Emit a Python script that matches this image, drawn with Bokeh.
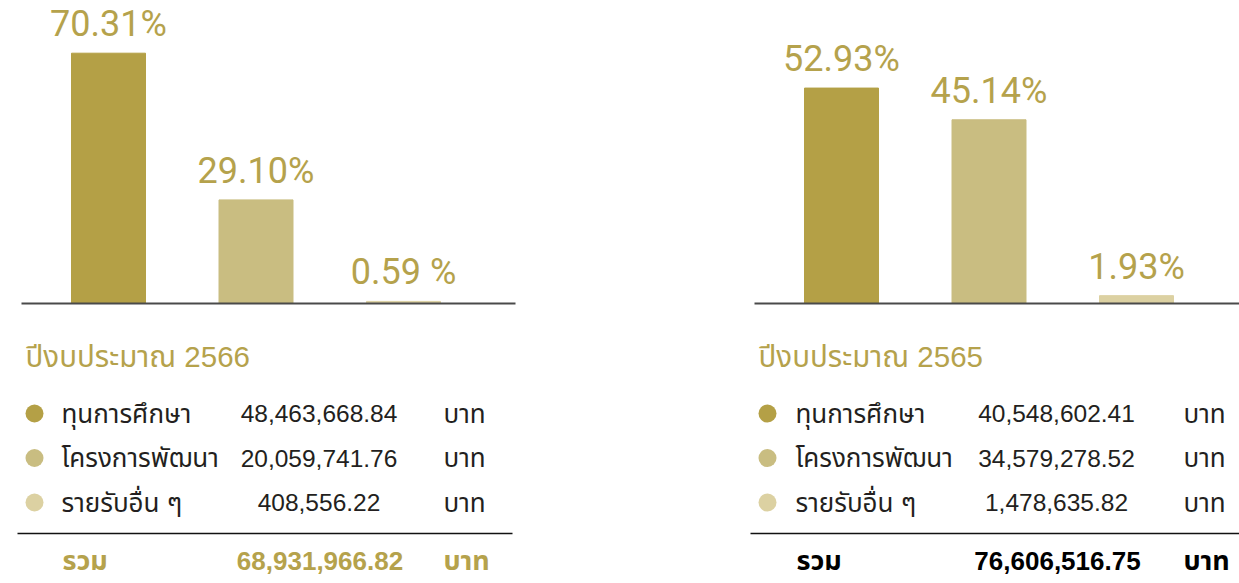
from bokeh.plotting import figure
from bokeh.models import Range1d, ColumnDataSource
from bokeh.core.properties import value
from bokeh.embed import file_html
from bokeh.resources import INLINE

# ---------------- data ----------------
categories = ["ทุนการศึกษา", "โครงการพัฒนา", "รายรับอื่น ๆ"]
years = ["ปีงบประมาณ 2566", "ปีงบประมาณ 2565"]

pct_2566 = [70.31, 29.10, 0.59]
pct_labels_2566 = ["70.31%", "29.10%", "0.59 %"]
amounts_2566 = ["48,463,668.84", "20,059,741.76", "408,556.22"]
total_2566 = "68,931,966.82"

pct_2565 = [52.93, 45.14, 1.93]
pct_labels_2565 = ["52.93%", "45.14%", "1.93%"]
amounts_2565 = ["40,548,602.41", "34,579,278.52", "1,478,635.82"]
total_2565 = "76,606,516.75"

total_label = "รวม"
unit = "บาท"

# ---------------- style ----------------
W, H = 1239, 583
bar_colors = ["#B4A046", "#C9BD81", "#DCD1A2"]
gold = "#B5A24C"
dark = "#231F20"
num_font = value("Liberation Sans, Noto Sans Thai, Noto Sans, sans-serif")
big_font = value("Roboto, Liberation Sans, sans-serif")
STEP = 147.5      # px between bar centres
BASE_Y = 303      # px of the bar baseline

p = figure(width=W, height=H, output_backend="svg", toolbar_location=None,
           x_range=Range1d(0, W), y_range=Range1d(H, 0), min_border=0)
p.xaxis.visible = False
p.yaxis.visible = False
p.xgrid.visible = False
p.ygrid.visible = False
p.outline_line_color = None


def bar_panel(name, pcts, labels, first_center, px_per_pct, base_x0, base_x1):
    xr = Range1d((0 - first_center) / STEP, (W - first_center) / STEP)
    yr = Range1d(-(H - BASE_Y) / px_per_pct, BASE_Y / px_per_pct)
    p.extra_x_ranges["x" + name] = xr
    p.extra_y_ranges["y" + name] = yr
    src = ColumnDataSource(dict(x=list(range(len(pcts))), top=pcts, label=labels,
                                color=bar_colors,
                                ly=[v + 29 / px_per_pct for v in pcts]))
    p.vbar(x="x", top="top", bottom=0, width=74 / STEP, color="color", source=src,
           x_range_name="x" + name, y_range_name="y" + name)
    p.text(x="x", y="ly", text="label", source=src, text_align="center",
           text_baseline="middle", text_font=big_font,
           text_font_size=value("36px"), text_color=gold,
           x_range_name="x" + name, y_range_name="y" + name)
    p.segment(x0=[base_x0], y0=[BASE_Y], x1=[base_x1], y1=[BASE_Y],
              line_color="#4A4A4A", line_width=2)


def table(title, amounts, total, bullet_x, label_x, num_x, unit_x,
          line_x0, line_x1, total_color):
    rows_y = [413, 457.5, 502]
    total_y = 560
    p.text(x=[bullet_x - 9], y=[356], text=[title], text_font=num_font,
           text_font_size=value("29.5px"), text_color=gold, text_baseline="middle")
    p.scatter(x=[bullet_x] * 3, y=rows_y, size=18, color=bar_colors, line_color=None)
    p.text(x=[label_x] * 3, y=rows_y, text=categories, text_font=num_font,
           text_font_size=value("26px"), text_color=dark, text_baseline="middle")
    p.text(x=[num_x] * 3, y=rows_y, text=amounts, text_font=num_font,
           text_font_size=value("24.5px"), text_color=dark, text_baseline="middle",
           text_align="center")
    p.text(x=[unit_x] * 3, y=rows_y, text=[unit] * 3, text_font=num_font,
           text_font_size=value("26px"), text_color=dark, text_baseline="middle")
    p.segment(x0=[line_x0], y0=[533], x1=[line_x1], y1=[533], line_color="#111111",
              line_width=1.5)
    p.text(x=[label_x + 1], y=[total_y], text=[total_label], text_font=num_font,
           text_font_size=value("27px"), text_font_style="bold", text_color=total_color,
           text_baseline="middle")
    p.text(x=[num_x + 1], y=[total_y], text=[total], text_font=num_font,
           text_font_size=value("26px"), text_font_style="bold", text_color=total_color,
           text_baseline="middle", text_align="center")
    p.text(x=[unit_x], y=[total_y], text=[unit], text_font=num_font,
           text_font_size=value("27px"), text_font_style="bold", text_color=total_color,
           text_baseline="middle")


bar_panel("l", pct_2566, pct_labels_2566, 108, 3.56, 21, 515)
bar_panel("r", pct_2565, pct_labels_2565, 841, 4.07, 754, 1239)

table(years[0], amounts_2566, total_2566, 34, 61, 318.5, 443, 17, 512, gold)
table(years[1], amounts_2565, total_2565, 767, 795, 1056, 1183, 750, 1239, "#000000")

with open("out.html", "w") as f:
    f.write(file_html(p, INLINE))
